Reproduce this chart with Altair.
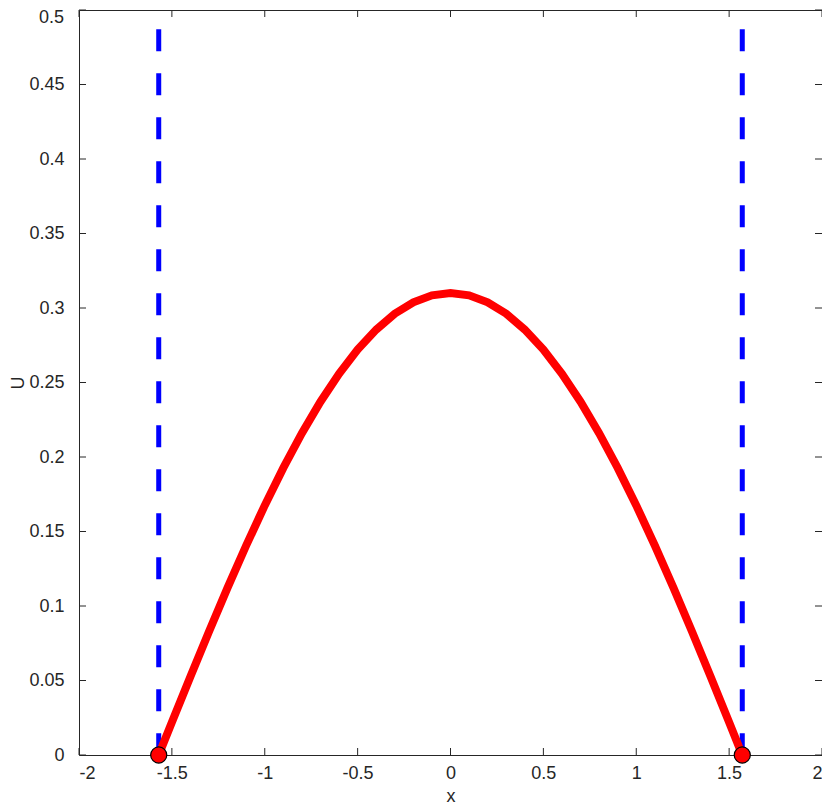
import altair as alt
import pandas as pd

# curve readings
curve_x = [-1.5708, -1.5, -1.4, -1.3, -1.2, -1.1, -1.0, -0.9, -0.8, -0.7, -0.6, -0.5, -0.4, -0.3, -0.2, -0.1, 0.0,
           0.1, 0.2, 0.3, 0.4, 0.5, 0.6, 0.7, 0.8, 0.9, 1.0, 1.1, 1.2, 1.3, 1.4, 1.5, 1.5708]
curve_u = [0.0, 0.0219, 0.0527, 0.0829, 0.1123, 0.1406, 0.1675, 0.1927, 0.2160, 0.2371, 0.2559, 0.2721, 0.2855, 0.2962, 0.3038, 0.3085, 0.31,
           0.3085, 0.3038, 0.2962, 0.2855, 0.2721, 0.2559, 0.2371, 0.2160, 0.1927, 0.1675, 0.1406, 0.1123, 0.0829, 0.0527, 0.0219, 0.0]

wall_x = [-1.5708, 1.5708]
wall_top = 0.487
end_x = [-1.5708, 1.5708]
end_u = [0.0, 0.0]

x_ticks = [-2, -1.5, -1, -0.5, 0, 0.5, 1, 1.5, 2]
y_ticks = [0, 0.05, 0.1, 0.15, 0.2, 0.25, 0.3, 0.35, 0.4, 0.45, 0.5]

W, H = 743, 745
FONT = "Liberation Sans"
AX = "#262626"
FS = 18

xs = alt.Scale(domain=[-2, 2], nice=False, zero=False)
ys = alt.Scale(domain=[0, 0.5], nice=False, zero=False)

curve_df = pd.DataFrame({"x": curve_x, "U": curve_u})
walls = []
for i, wx in enumerate(wall_x):
    walls.append({"x": wx, "U": wall_top, "id": i, "o": 0})
    walls.append({"x": wx, "U": 0.0, "id": i, "o": 1})
wall_df = pd.DataFrame(walls)
end_df = pd.DataFrame({"x": end_x, "U": end_u})
xt_df = pd.DataFrame({"t": x_ticks})
yt_df = pd.DataFrame({"t": y_ticks})
ytop_df = pd.DataFrame({"t": y_ticks[-1:], "lab": [str(y_ticks[-1])]})

base_x = alt.X("x:Q", scale=xs, axis=alt.Axis(values=x_ticks, labelExpr="'' + datum.value", title="x",
                                               grid=False, tickSize=0, labelPadding=9, domain=False,
                                               titlePadding=5))
base_y = alt.Y("U:Q", scale=ys, axis=alt.Axis(values=y_ticks[:-1], labelExpr="'' + datum.value", title="U",
                                               grid=False, tickSize=0, labelPadding=15, domain=False,
                                               titlePadding=1, labelFlush=False))

curve = alt.Chart(curve_df).mark_line(color="#ff0000", strokeWidth=8, interpolate="linear").encode(
    x=base_x, y=base_y)

wall = alt.Chart(wall_df).mark_line(color="#0000ff", strokeWidth=5, strokeDash=[22, 22]).encode(
    x=alt.X("x:Q", scale=xs), y=alt.Y("U:Q", scale=ys), detail="id:N", order="o:Q")

ends = alt.Chart(end_df).mark_point(filled=True, fill="#ff0000", stroke="black", strokeWidth=1.2,
                                    size=260, opacity=1, shape="circle").encode(
    x=alt.X("x:Q", scale=xs), y=alt.Y("U:Q", scale=ys))

top_label = alt.Chart(ytop_df).mark_text(font=FONT, fontSize=FS, color=AX, align="right",
                                         baseline="top", dy=-1).encode(
    y=alt.Y("t:Q", scale=ys), x=alt.value(-15), text="lab:N")

tick_len = 7
xb = alt.Chart(xt_df).mark_rule(color=AX, strokeWidth=1).encode(
    x=alt.X("t:Q", scale=xs), y=alt.value(H), y2=alt.value(H - tick_len))
xtop = alt.Chart(xt_df).mark_rule(color=AX, strokeWidth=1).encode(
    x=alt.X("t:Q", scale=xs), y=alt.value(0), y2=alt.value(tick_len))
yl = alt.Chart(yt_df).mark_rule(color=AX, strokeWidth=1).encode(
    y=alt.Y("t:Q", scale=ys), x=alt.value(0), x2=alt.value(tick_len))
yr = alt.Chart(yt_df).mark_rule(color=AX, strokeWidth=1).encode(
    y=alt.Y("t:Q", scale=ys), x=alt.value(W), x2=alt.value(W - tick_len))

chart = alt.layer(xb, xtop, yl, yr, wall, curve, ends, top_label).properties(
    width=W, height=H,
    background="white",
    autosize=alt.AutoSizeParams(type="none"),
    padding={"left": 71, "top": 2, "right": 0, "bottom": 52},
).configure_view(stroke=AX, strokeWidth=1).configure_axis(
    labelFont=FONT, titleFont=FONT, labelFontSize=FS, titleFontSize=FS,
    labelColor=AX, titleColor=AX, titleFontWeight="normal",
)

chart.save("out.html", embed_options={"renderer": "svg", "actions": False})
